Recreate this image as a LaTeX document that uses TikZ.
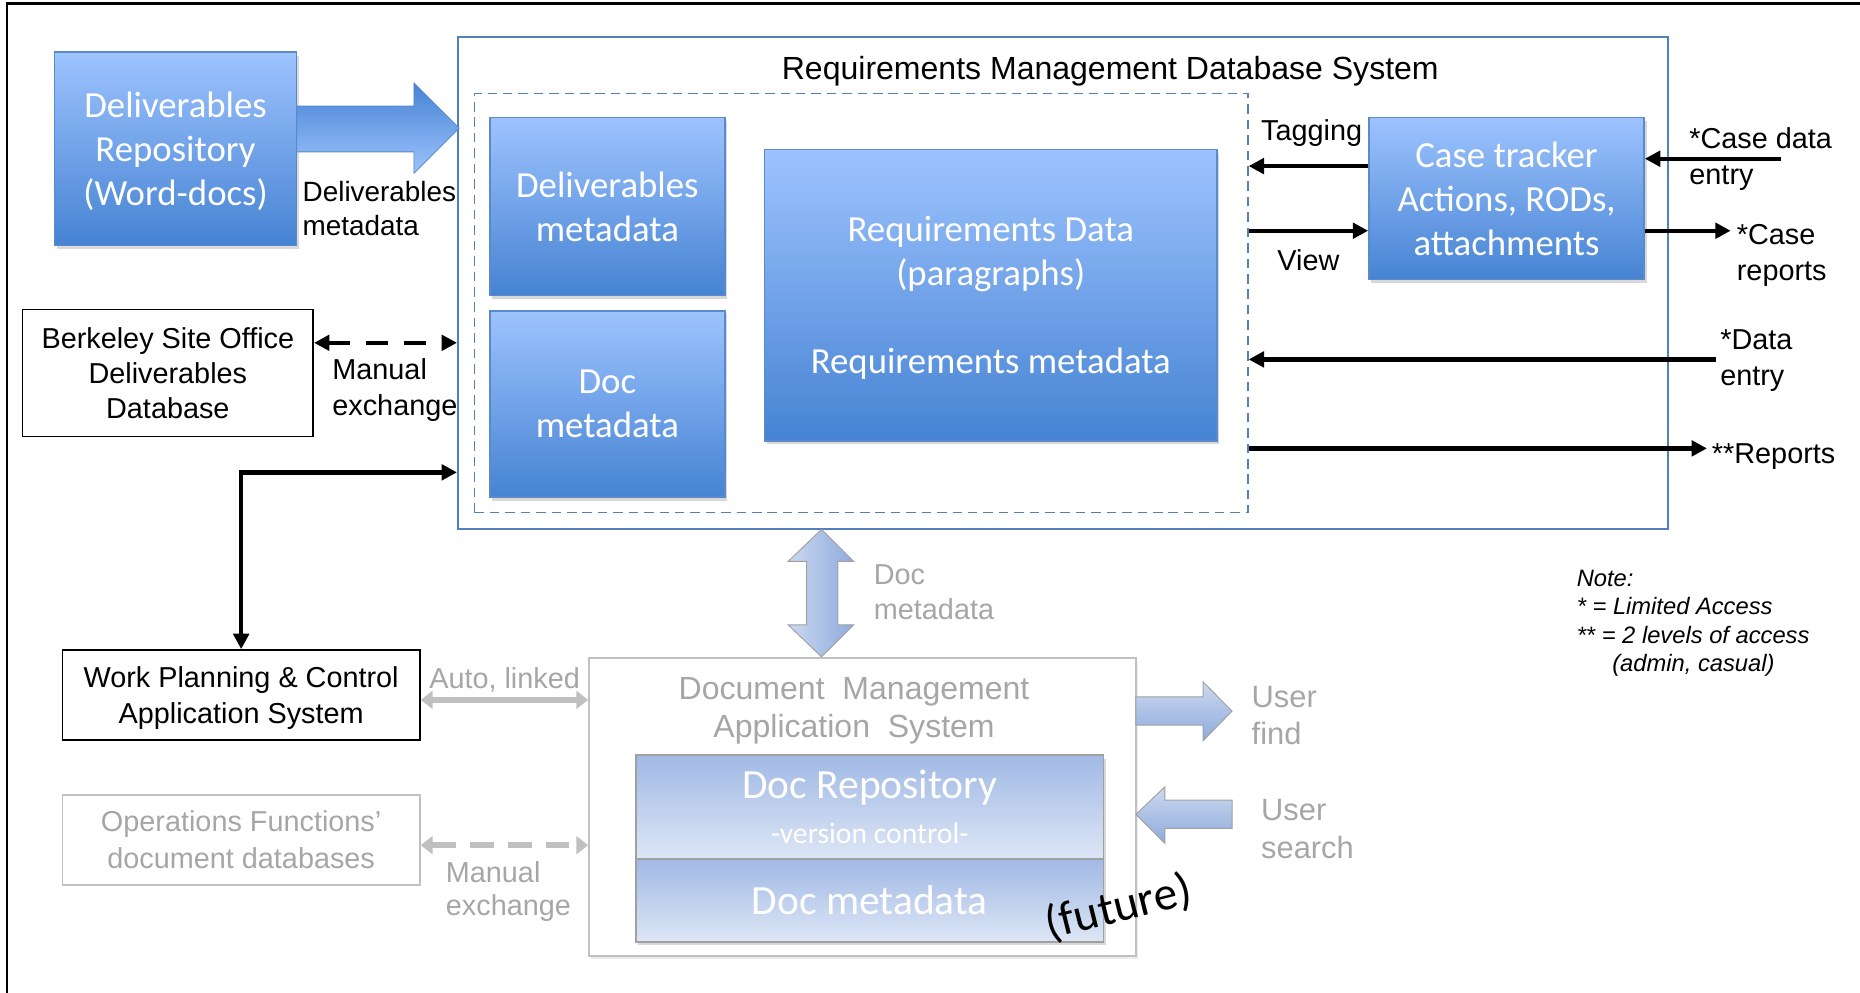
\documentclass[tikz,border=0pt]{standalone}
\usepackage{fontspec}
\setmainfont{Liberation Sans}
\newfontfamily\calib{Carlito}
\usepackage{tikz}
\usetikzlibrary{arrows.meta,shadows,positioning}

\definecolor{bluetop}{HTML}{9DC3FE}
\definecolor{bluebot}{HTML}{4683D3}
\definecolor{blueedge}{HTML}{5A8AC9}
\definecolor{sysedge}{HTML}{4F81BD}
\definecolor{grayline}{HTML}{C0C0C0}
\definecolor{graytext}{HTML}{A6A6A6}
\definecolor{doctop}{HTML}{A1B9E5}
\definecolor{docbot}{HTML}{DDE6F5}
\definecolor{docedge}{HTML}{A0A0A0}
\definecolor{softlight}{HTML}{CCD9F1}
\definecolor{softdark}{HTML}{8EAADC}

\begin{document}
\begin{tikzpicture}[x=1pt,y=-1pt,
  bluebox/.style={draw=blueedge,line width=1.2pt,top color=bluetop,bottom color=bluebot,text=white,align=center,inner sep=0pt,text depth=0pt,
    font=\calib\fontsize{31}{37}\selectfont,drop shadow={shadow xshift=2pt,shadow yshift=-3pt,opacity=0.3}},
  docbox/.style={draw=docedge,line width=1.2pt,top color=doctop,bottom color=docbot,text=white,align=center,inner sep=0pt,text depth=0pt,
    font=\calib\fontsize{35}{38}\selectfont,drop shadow={shadow xshift=2pt,shadow yshift=-3pt,opacity=0.3}},
  sysbox/.style={draw=sysedge,line width=1.5pt,fill=white,inner sep=0pt},
  innerbox/.style={draw=sysedge,line width=1.2pt,dash pattern=on 8pt off 5pt,inner sep=0pt},
  plainbox/.style={draw=black,line width=1.5pt,align=center,inner sep=0pt,text depth=0pt,font=\fontsize{24.3}{29.5}\selectfont},
  graybox/.style={draw=grayline,line width=1.5pt,align=center,inner sep=0pt,text depth=0pt,text=graytext,font=\fontsize{24.3}{31}\selectfont},
  lbl/.style={inner sep=0pt,align=left,text depth=0pt,font=\fontsize{24.3}{30}\selectfont},
  graylbl/.style={inner sep=0pt,align=left,text depth=0pt,text=graytext,font=\fontsize{24.3}{29.5}\selectfont},
  blk/.style={line width=3.7pt,>={Triangle[length=13pt,width=13pt]}},
  grayarr/.style={draw=grayline,line width=5pt,>={Triangle[length=10pt,width=15pt]}},
  bigarrow/.style={draw=blueedge,line width=0.8pt,top color=bluebot,bottom color=bluetop},
  softarrow/.style={draw=docedge,line width=0.8pt}]
\useasboundingbox (0,0) rectangle (1568,837);
\draw[line width=2pt] (6,837) -- (6,3) -- (1568,3);

% requirements management system
\node[sysbox,minimum width=1020pt,minimum height=415pt] at (896,238.5) (rmds) {};
\node[lbl,font=\fontsize{27}{32}\selectfont] at (936,57.6) (rmdstitle) {Requirements Management Database System};
\node[innerbox,minimum width=652pt,minimum height=353pt] at (726,255.5) (inner) {};
\node[bluebox,minimum width=198pt,minimum height=150pt] at (512,174) (delmeta) {Deliverables\\metadata};
\node[bluebox,minimum width=198pt,minimum height=157pt] at (512,340.5) (docmeta) {Doc\\metadata};
\node[bluebox,minimum width=381.5pt,minimum height=245.6pt] at (835.25,248.8) (reqdata) {Requirements Data\\(paragraphs)\\[37pt]Requirements metadata};
\node[bluebox,minimum width=232pt,minimum height=136.5pt] at (1270,167.25) (tracker) {Case tracker\\Actions, RODs,\\attachments};

% left side
\node[bluebox,minimum width=204pt,minimum height=163pt] at (148,125.5) (repo) {Deliverables\\Repository\\(Word-docs)};
\draw[bigarrow] (250,89.4) -- (349,89.4) -- (349,70) -- (387,108) -- (349,146) -- (349,128) -- (250,128) -- cycle;
\node[lbl,anchor=west,font=\fontsize{23.5}{29}\selectfont] at (255,175.5) (delmetalbl) {Deliverables\\metadata};
\node[plainbox,minimum width=245pt,minimum height=107pt] at (141.5,314.5) (berkeley) {Berkeley Site Office\\Deliverables\\Database};
\node[lbl,anchor=west] at (280,326.5) (manlbl) {Manual\\exchange};
\node[plainbox,font=\fontsize{24.3}{31}\selectfont,minimum width=301.3pt,minimum height=76pt] at (203.3,586) (wpc) {Work Planning \& Control\\Application System};
\node[graybox,minimum width=301.3pt,minimum height=76pt] at (203.3,708) (ops) {Operations Functions’\\document databases};

% document management
\node[graybox,minimum width=461pt,minimum height=250.8pt,fill=white,drop shadow={shadow xshift=2pt,shadow yshift=-3pt,opacity=0.15}] at (727.1,680.4) (dmas) {};
\node[graylbl,align=center,font=\fontsize{27}{32}\selectfont] at (720,596.5) (dmastitle) {Document~~Management\\Application~~System};
\node[docbox,minimum width=394.4pt,minimum height=87.4pt] at (733.2,680.3) (docrepo) {Doc Repository\\{\fontsize{25}{30}\selectfont -version control-}};
\node[docbox,minimum width=394.4pt,minimum height=70pt] at (733.2,759) (docmeta2) {Doc metadata};
\node[inner sep=0pt,rotate=14,font=\calib\fontsize{40}{42}\selectfont] at (943,765) (future) {(future)};

% block arrows
\draw[softarrow,left color=softlight,right color=softdark] (692.5,446.3) -- (719.7,473.3) -- (706.3,473.3) -- (706.3,526.7) -- (719.7,526.7) -- (692.5,553.7) -- (664.4,526.7) -- (680,526.7) -- (680,473.3) -- (664.4,473.3) -- cycle;
\node[graylbl,anchor=west] at (736.5,499) (docmetalbl) {Doc\\metadata};
\draw[softarrow,top color=softlight,bottom color=softdark] (957.6,587.4) -- (1014.2,587.4) -- (1014.2,574.8) -- (1038.6,599.5) -- (1014.2,624.4) -- (1014.2,611.3) -- (957.6,611.3) -- cycle;
\draw[softarrow,top color=softlight,bottom color=softdark] (957.6,686.5) -- (982,663.3) -- (982,674.5) -- (1038.6,674.5) -- (1038.6,698.4) -- (982,698.4) -- (982,711) -- cycle;
\node[graylbl,anchor=west,font=\fontsize{26}{31}\selectfont] at (1055,603) (findlbl) {User\\find};
\node[graylbl,anchor=west,font=\fontsize{26}{32}\selectfont] at (1063,699) (searchlbl) {User\\search};

% connectors
\coordinate (bsoin) at ([yshift=25.5pt]berkeley.east);
\draw[blk,<->,dash pattern=on 18pt off 14pt] (bsoin) -- (bsoin -| rmds.west);
\coordinate (wpcin) at ([yshift=-159.7pt]rmds.west);
\draw[blk,<->] (wpc.north) |- (wpcin);
\coordinate (tagout) at ([yshift=27.25pt]tracker.west);
\draw[blk,->] (tagout) -- (tagout -| inner.east);
\coordinate (viewin) at ([yshift=-27.25pt]tracker.west);
\draw[blk,->] (viewin -| inner.east) -- (viewin);
\coordinate (cdein) at (1501,133.8);
\draw[blk,->] (cdein) -- (cdein -| tracker.east);
\coordinate (crpout) at (1459,194.5);
\draw[blk,->] (crpout -| tracker.east) -- (crpout);
\coordinate (dein) at (1447,303);
\draw[blk,->] (dein) -- (dein -| inner.east);
\coordinate (repout) at (1439,378);
\draw[blk,->] (repout -| inner.east) -- (repout);
\coordinate (autoend) at ([yshift=-4pt]wpc.east);
\draw[grayarr,<->] (autoend) -- (autoend -| dmas.west);
\coordinate (opsend) at ([yshift=-4.5pt]ops.east);
\draw[grayarr,<->,dash pattern=on 20pt off 12pt] (opsend) -- (opsend -| dmas.west);

% labels
\node[lbl,anchor=west] at (1063,110) (taglbl) {Tagging};
\node[lbl] at (1103,219) (viewlbl) {View};
\node[lbl,anchor=west] at (1424,131.7) (cdelbl) {*Case data\\entry};
\node[lbl,anchor=west] at (1464,212.8) (crplbl) {*Case\\reports};
\node[lbl,anchor=west] at (1450,301.4) (delbl) {*Data\\entry};
\node[lbl,anchor=west] at (1443,382) (replbl) {**Reports};
\node[graylbl,anchor=west] at (361.7,571.4) (autolbl) {Auto, linked};
\node[graylbl,anchor=west,font=\fontsize{24.3}{28.5}\selectfont] at (375.7,749) (manlbl2) {Manual\\exchange};
\node[lbl,anchor=west,font=\itshape\fontsize{20}{24}\selectfont] at (1329,523.5) (note) {Note:\\* = Limited Access\\** = 2 levels of access\\\hspace*{30pt}(admin, casual)};
\end{tikzpicture}
\end{document}
